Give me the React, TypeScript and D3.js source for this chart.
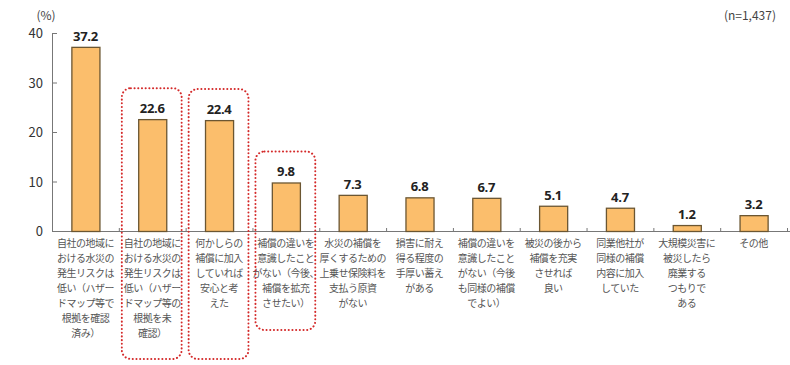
import * as d3 from 'd3'
import React from 'react'

// 水災補償に関する回答（%）
const categories: string[][] = [
  ['自社の地域に', 'おける水災の', '発生リスクは', '低い（ハザー', 'ドマップ等で', '根拠を確認', '済み）'],
  ['自社の地域に', 'おける水災の', '発生リスクは', '低い（ハザー', 'ドマップ等の', '根拠を未', '確認）'],
  ['何かしらの', '補償に加入', 'していれば', '安心と考', 'えた'],
  ['補償の違いを', '意識したこと', 'がない（今後、', '補償を拡充', 'させたい）'],
  ['水災の補償を', '厚くするための', '上乗せ保険料を', '支払う原資', 'がない'],
  ['損害に耐え', '得る程度の', '手厚い蓄え', 'がある'],
  ['補償の違いを', '意識したこと', 'がない（今後', 'も同様の補償', 'でよい）'],
  ['被災の後から', '補償を充実', 'させれば', '良い'],
  ['同業他社が', '同様の補償', '内容に加入', 'していた'],
  ['大規模災害に', '被災したら', '廃業する', 'つもりで', 'ある'],
  ['その他'],
]
const values = [37.2, 22.6, 22.4, 9.8, 7.3, 6.8, 6.7, 5.1, 4.7, 1.2, 3.2]
const yTicks = [0, 10, 20, 30, 40]
const highlighted = [1, 2, 3]

const W = 790
const H = 365
const font = '"Noto Sans CJK JP", "Noto Sans", sans-serif'

export default function App() {
  const x = d3
    .scaleBand<number>()
    .domain(values.map((_, i) => i))
    .range([52, 787])
    .paddingInner(0.58)
    .paddingOuter(0.29)
  const y = d3.scaleLinear().domain([0, 40]).range([231, 33])
  const step = x.step()
  const edge = (i: number) => (x(i) as number) - (step * 0.58) / 2

  return (
    <div style={{ position: 'absolute', left: 0, top: 0 }}>
      <svg width={W} height={H} style={{ display: 'block', background: '#fff', fontFamily: font }}>
        <text x={46} y={20} fontSize={12} fill="#444" textAnchor="middle">(%)</text>
        <text x={776} y={20} fontSize={12} fill="#444" textAnchor="end">(n=1,437)</text>

        {/* y axis */}
        <line x1={52.5} x2={52.5} y1={y(40)} y2={y(0)} stroke="#777" />
        {yTicks.map(t => (
          <g key={t}>
            <line x1={52} x2={57} y1={y(t) + 0.5} y2={y(t) + 0.5} stroke="#777" />
            <text x={43} y={y(t) + 5} fontSize={13} fill="#333" textAnchor="end">{t}</text>
          </g>
        ))}

        {/* x axis */}
        <line x1={52} x2={790} y1={y(0) + 0.5} y2={y(0) + 0.5} stroke="#777" />
        {values.map((_, i) => (
          <line key={i} x1={edge(i) + step + 0.5} x2={edge(i) + step + 0.5} y1={y(0) - 3} y2={y(0)} stroke="#777" />
        ))}

        {/* bars */}
        {values.map((v, i) => (
          <g key={i}>
            <rect
              x={(x(i) as number) + 0.5}
              y={y(v) + 0.5}
              width={x.bandwidth()}
              height={y(0) - y(v)}
              fill="#FBBE6C"
              stroke="#6b5632"
              strokeWidth={1.3}
            />
            <text
              x={(x(i) as number) + x.bandwidth() / 2}
              y={y(v) - 6}
              fontSize={13}
              fontWeight="bold"
              fill="#222"
              textAnchor="middle"
              letterSpacing={-0.3}
              fontFamily='"Open Sans", sans-serif'
            >
              {v.toFixed(1)}
            </text>
          </g>
        ))}

        {/* category labels */}
        {categories.map((lines, i) => (
          <text key={i} fontSize={10} letterSpacing={-0.5} fill="#555" textAnchor="middle">
            {lines.map((l, j) => (
              <tspan key={j} x={(x(i) as number) + x.bandwidth() / 2} y={247 + j * 15}>
                {l}
              </tspan>
            ))}
          </text>
        ))}

        {/* dotted highlight boxes */}
        {highlighted.map(i => {
          const top = y(values[i]) - 31
          const bottom = i === 3 ? 330 : 359
          return (
            <rect
              key={i}
              x={edge(i) + 3}
              y={top}
              width={step - 7}
              height={bottom - top}
              rx={9}
              fill="none"
              stroke="#d42a2a"
              strokeWidth={2}
              strokeDasharray="0.1 3.6"
              strokeLinecap="round"
            />
          )
        })}
      </svg>
    </div>
  )
}
